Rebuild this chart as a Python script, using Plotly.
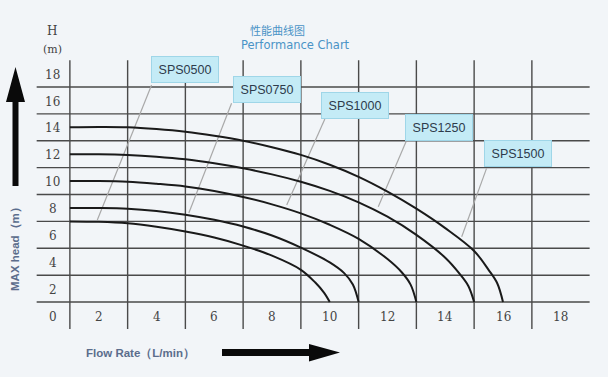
import plotly.graph_objects as go

# ---------------- data ----------------
models = ["SPS0500", "SPS0750", "SPS1000", "SPS1250", "SPS1500"]

flow_0500 = [1, 2, 3, 4, 5, 6, 7, 8, 9, 9.5, 9.8, 10]
head_0500 = [7.0, 6.97, 6.86, 6.6, 6.25, 5.8, 5.2, 4.45, 3.4, 2.45, 1.7, 1.0]

flow_0750 = [1, 2, 3, 4, 5, 6, 7, 8, 9, 10, 10.5, 10.8, 11]
head_0750 = [8.0, 8.0, 7.95, 7.78, 7.5, 7.12, 6.62, 5.95, 5.05, 3.95, 3.15, 2.3, 1.0]

flow_1000 = [1, 2, 3, 4, 5, 6, 7, 8, 9, 10, 11, 12, 12.5, 12.8, 13]
head_1000 = [10.0, 10.0, 9.95, 9.8, 9.6, 9.27, 8.82, 8.27, 7.6, 6.75, 5.7, 4.2, 3.2, 2.3, 1.0]

flow_1250 = [1, 2, 3, 4, 5, 6, 7, 8, 9, 10, 11, 12, 13, 14, 14.5, 14.8, 15]
head_1250 = [12.0, 12.0, 11.95, 11.82, 11.62, 11.32, 10.95, 10.5, 9.95, 9.27, 8.42, 7.35, 6.0, 4.3, 3.1, 2.2, 1.0]

flow_1500 = [1, 2, 3, 4, 5, 6, 7, 8, 9, 10, 11, 12, 13, 14, 15, 15.5, 15.8, 16]
head_1500 = [14.0, 14.02, 14.0, 13.87, 13.67, 13.37, 13.0, 12.52, 11.95, 11.22, 10.32, 9.22, 7.95, 6.5, 4.8, 3.4, 2.4, 1.0]

curves = [(flow_0500, head_0500), (flow_0750, head_0750), (flow_1000, head_1000),
          (flow_1250, head_1250), (flow_1500, head_1500)]

# label boxes (centre) and leader lines (start, end)
label_x = [4.98, 7.81, 10.87, 13.8, 16.53]
label_y = [18.34, 16.85, 15.59, 13.99, 12.05]
leader_x0 = [3.83, 6.6, 9.83, 12.64, 15.43]
leader_y0 = [17.15, 15.79, 14.62, 12.93, 10.95]
leader_x1 = [1.95, 5.12, 8.51, 11.68, 14.57]
leader_y1 = [7.1, 7.63, 8.22, 8.1, 5.86]

x_tick_vals = [2, 4, 6, 8, 10, 12, 14, 16, 18]
y_tick_vals = [2, 4, 6, 8, 10, 12, 14, 16, 18]
grid_vals = [1, 3, 5, 7, 9, 11, 13, 15, 17]

# ---------------- layout geometry ----------------
W, H = 608, 377
ML, MR, MT, MB = 35, 18, 59, 40
PX_PER_X = 28.875
X_ZERO_PX = 41.0
PX_PER_Y = 13.44
Y_ZERO_PX = 315.5

x_lo = (ML - X_ZERO_PX) / PX_PER_X
x_hi = (W - MR - X_ZERO_PX) / PX_PER_X
y_hi = (Y_ZERO_PX - MT) / PX_PER_Y
y_lo = (Y_ZERO_PX - (H - MB)) / PX_PER_Y

def px2paper(px, py):
    return ((px - ML) / (W - ML - MR), ((H - MB) - py) / (H - MT - MB))

def path_from_px(pts):
    s = ""
    for i, (px, py) in enumerate(pts):
        x, y = px2paper(px, py)
        s += ("M" if i == 0 else "L") + f"{x:.5f},{y:.5f} "
    return s + "Z"

fig = go.Figure()

grid_color = "#4a4a4a"
shapes = []
for v in grid_vals:
    shapes.append(dict(type="line", xref="x", yref="y", x0=-0.15, x1=19.0, y0=v, y1=v,
                       line=dict(color=grid_color, width=1.4), layer="below"))
    shapes.append(dict(type="line", xref="x", yref="y", x0=v, x1=v, y0=-1.0, y1=19.0,
                       line=dict(color=grid_color, width=1.4), layer="below"))

# leader lines
for i in range(len(models)):
    fig.add_trace(go.Scatter(x=[leader_x0[i], leader_x1[i]], y=[leader_y0[i], leader_y1[i]],
                             mode="lines", line=dict(color="#a9a9a9", width=1.2),
                             hoverinfo="skip", showlegend=False))

# curves
for (fx, hy), name in zip(curves, models):
    fig.add_trace(go.Scatter(x=fx, y=hy, mode="lines", name=name,
                             line=dict(color="#1a1a1a", width=2, shape="spline", smoothing=1.0),
                             showlegend=False))

# arrows (decorative)
y_arrow = [(12.5, 186), (12.5, 102), (6, 102), (15.5, 67), (25, 102), (18.5, 102), (18.5, 186)]
x_arrow = [(222, 349), (309, 349), (309, 344), (340, 352.5), (309, 361.5), (309, 356), (222, 356)]
for pts in (y_arrow, x_arrow):
    shapes.append(dict(type="path", xref="paper", yref="paper", path=path_from_px(pts),
                       fillcolor="#0a0a0a", line=dict(width=0)))

annotations = []

def px_note(px, py, text, font, **kw):
    x, y = px2paper(px, py)
    annotations.append(dict(x=x, y=y, xref="paper", yref="paper", text=text, showarrow=False,
                            xanchor="center", yanchor="middle", font=font, **kw))

tick_font = dict(family="DejaVu Serif", size=12, color="#444444")
for v in x_tick_vals:
    annotations.append(dict(x=v, y=-0.1, xref="x", yref="y", text=str(v), showarrow=False,
                            xanchor="center", yanchor="middle", font=tick_font))
for v in y_tick_vals:
    annotations.append(dict(x=0.41, y=v - 0.08, xref="x", yref="y", text=str(v), showarrow=False,
                            xanchor="center", yanchor="middle", font=tick_font))
annotations.append(dict(x=0.41, y=-0.1, xref="x", yref="y", text="0", showarrow=False,
                        xanchor="center", yanchor="middle", font=tick_font))
px_note(52, 31, "H", tick_font)
px_note(52, 50, "(m)", dict(family="DejaVu Serif", size=11, color="#444444"))

# title
px_note(277, 29.5, "性能曲线图", dict(family="Noto Sans CJK SC", size=11, color="#4a93c6"))
px_note(295, 44.5, "Performance Chart", dict(family="DejaVu Sans", size=11.5, color="#4a93c6"))

# axis titles
ax_font = dict(family="Liberation Sans", size=11.5, color="#5b6d8c")
px_note(140, 353, "<b>Flow Rate（L/min）</b>", ax_font)
px_note(15, 246, "<b>MAX head（m）</b>", ax_font, textangle=-90)

# model label boxes
for i, m in enumerate(models):
    annotations.append(dict(x=label_x[i], y=label_y[i], xref="x", yref="y", text=m, showarrow=False,
                            xanchor="center", yanchor="middle",
                            width=62, height=21, borderpad=2, bgcolor="#c4ebf6",
                            bordercolor="#9fd6e8", borderwidth=1,
                            font=dict(family="Liberation Sans", size=12.5, color="#2e3b4c")))

fig.update_layout(
    width=W, height=H,
    margin=dict(l=ML, r=MR, t=MT, b=MB),
    paper_bgcolor="#f2f5f8", plot_bgcolor="#f2f5f8",
    xaxis=dict(range=[x_lo, x_hi], visible=False, fixedrange=True),
    yaxis=dict(range=[y_lo, y_hi], visible=False, fixedrange=True),
    shapes=shapes, annotations=annotations,
    showlegend=False,
)

fig.write_html("out.html")
